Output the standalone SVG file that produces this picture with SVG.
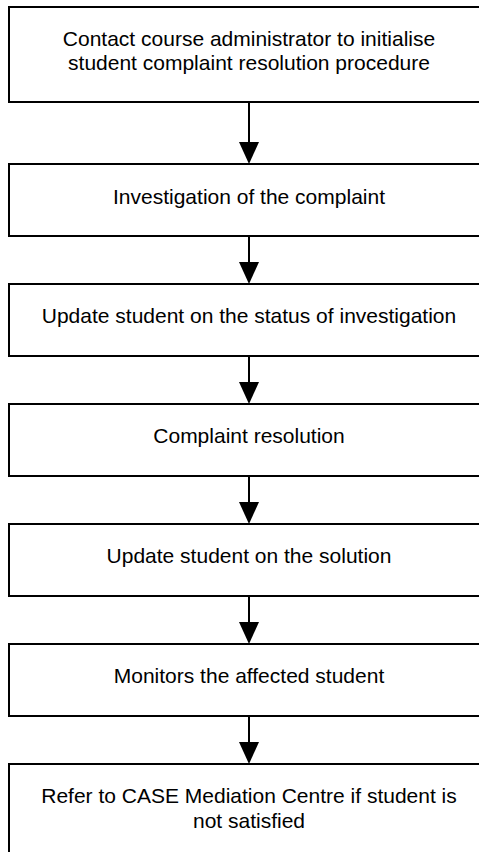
<svg xmlns="http://www.w3.org/2000/svg" width="479" height="852" viewBox="0 0 479 852">
<style>
.box{fill:#fff;stroke:#000;stroke-width:2}
.t{font-family:"Liberation Sans",Arial,sans-serif;font-size:21px;fill:#000;text-anchor:middle}
.c{stroke:#000;stroke-width:2;fill:none}
.ah{fill:#000;stroke:none}
</style>
<rect width="479" height="852" fill="#fff"/>
<g id="n1"><rect class="box" x="9" y="7" width="480" height="95"/><text class="t" x="249" y="46">Contact course administrator to initialise</text><text class="t" x="249" y="69.5">student complaint resolution procedure</text></g>
<g id="n2"><rect class="box" x="9" y="164" width="480" height="72"/><text class="t" x="249" y="204">Investigation of the complaint</text></g>
<g id="n3"><rect class="box" x="9" y="284" width="480" height="72"/><text class="t" x="249" y="323">Update student on the status of investigation</text></g>
<g id="n4"><rect class="box" x="9" y="404" width="480" height="72"/><text class="t" x="249" y="443">Complaint resolution</text></g>
<g id="n5"><rect class="box" x="9" y="524" width="480" height="72"/><text class="t" x="249" y="563">Update student on the solution</text></g>
<g id="n6"><rect class="box" x="9" y="644" width="480" height="72"/><text class="t" x="249" y="683">Monitors the affected student</text></g>
<g id="n7"><rect class="box" x="9" y="764" width="480" height="100"/><text class="t" x="249" y="803">Refer to CASE Mediation Centre if student is</text><text class="t" x="249" y="827.5">not satisfied</text></g>
<g id="connectors">
<line class="c" x1="249" y1="102" x2="249" y2="143"/><polygon class="ah" points="239,142 259,142 249,164"/>
<line class="c" x1="249" y1="236" x2="249" y2="263"/><polygon class="ah" points="239,262 259,262 249,284"/>
<line class="c" x1="249" y1="356" x2="249" y2="383"/><polygon class="ah" points="239,382 259,382 249,404"/>
<line class="c" x1="249" y1="476" x2="249" y2="503"/><polygon class="ah" points="239,502 259,502 249,524"/>
<line class="c" x1="249" y1="596" x2="249" y2="623"/><polygon class="ah" points="239,622 259,622 249,644"/>
<line class="c" x1="249" y1="716" x2="249" y2="743"/><polygon class="ah" points="239,742 259,742 249,764"/>
</g>
</svg>
